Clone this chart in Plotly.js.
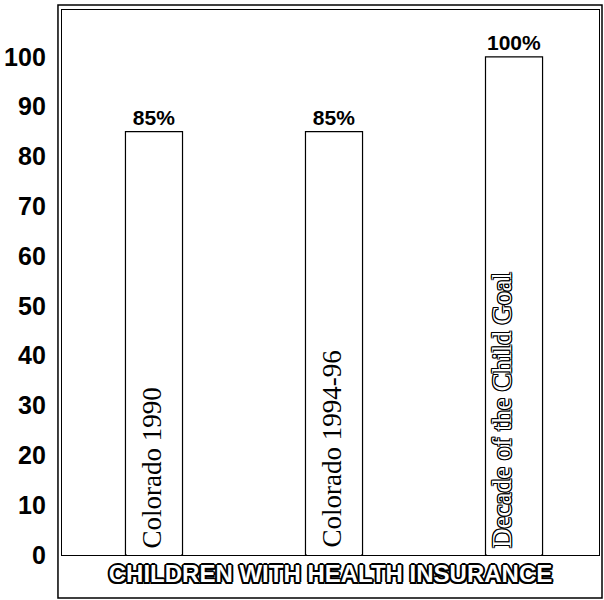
<!DOCTYPE html>
<html>
<head>
<meta charset="utf-8">
<script src="https://cdn.plot.ly/plotly-3.0.1.min.js"></script>
<style>html,body{margin:0;padding:0;background:#fff;}#chart{width:604px;height:600px;}</style>
</head>
<body>
<div id="chart"></div>
<script>
// ---- data ----
const categories = ['Colorado 1990', 'Colorado 1994-96', 'Decade of the Child Goal'];
const values = [85, 85, 100];
const valueLabels = ['85%', '85%', '100%'];
const yTickValues = [0, 10, 20, 30, 40, 50, 60, 70, 80, 90, 100];
const yTickLabels = ['0', '10', '20', '30', '40', '50', '60', '70', '80', '90', '100'];
const axisTitle = 'CHILDREN WITH HEALTH INSURANCE';

// ---- styling (not data) ----
const labelShift = [-2, -3, -12];
const outlined = [false, false, true];
const boldSans = 'Liberation Sans, Arial, sans-serif';
const serif = 'Liberation Serif, Times New Roman, serif';
const outline1 = '1px 0 0 #000, -1px 0 0 #000, 0 1px 0 #000, 0 -1px 0 #000, 1px 1px 0 #000, -1px -1px 0 #000, 1px -1px 0 #000, -1px 1px 0 #000';
const outline2 = '2px 0 0 #000, -2px 0 0 #000, 0 2px 0 #000, 0 -2px 0 #000, 1.4px 1.4px 0 #000, -1.4px -1.4px 0 #000, 1.4px -1.4px 0 #000, -1.4px 1.4px 0 #000';

const bars = {
  type: 'bar',
  x: categories,
  y: values,
  width: 0.317,
  marker: {color: '#ffffff', line: {color: '#000000', width: 1.2}},
  text: valueLabels,
  textposition: 'outside',
  textfont: {family: boldSans, size: 21, weight: 'bold', color: '#000'},
  cliponaxis: false,
  hoverinfo: 'skip'
};

// white patch hiding the baseline under each bar (open-bottom bars as in reference)
const mask = {
  type: 'bar',
  x: categories,
  y: categories.map(() => 1.2),
  base: categories.map(() => -1),
  width: 0.30,
  marker: {color: '#ffffff', line: {width: 0}},
  cliponaxis: false,
  hoverinfo: 'skip'
};

const annotations = categories.map((c, i) => ({
  x: c, y: 0, xref: 'x', yref: 'y',
  text: c,
  showarrow: false,
  textangle: -90,
  xanchor: 'center', yanchor: 'bottom',
  xshift: labelShift[i], yshift: 5,
  font: outlined[i]
    ? {family: serif, size: 27, color: '#ffffff', shadow: outline1}
    : {family: serif, size: 27, color: '#000000'}
}));

const layout = {
  width: 604, height: 600,
  margin: {l: 62, r: 5, t: 10, b: 45},
  paper_bgcolor: '#ffffff', plot_bgcolor: '#ffffff',
  showlegend: false,
  barmode: 'overlay',
  xaxis: {
    range: [-0.511, 2.472],
    showticklabels: false, ticks: '', showgrid: false, zeroline: false,
    showline: true, mirror: true, linecolor: '#000', linewidth: 1.2,
    layer: 'below traces',
    fixedrange: true,
    title: {text: axisTitle, standoff: 10,
      font: {family: boldSans, size: 24, weight: 'bold', color: '#ffffff', shadow: outline2}}
  },
  yaxis: {
    range: [0, 109.4],
    tickvals: yTickValues, ticktext: yTickLabels,
    ticks: '', ticklabelstandoff: 10,
    tickfont: {family: boldSans, size: 25, weight: 'bold', color: '#000'},
    showgrid: false, zeroline: false,
    showline: true, mirror: true, linecolor: '#000', linewidth: 1.2,
    layer: 'below traces',
    fixedrange: true
  },
  annotations: annotations,
  shapes: [{
    type: 'rect', xref: 'paper', yref: 'paper',
    x0: -0.0075, x1: 1.0056, y0: -0.0789, y1: 1.0092,
    line: {color: '#000', width: 1.5}, fillcolor: 'rgba(0,0,0,0)', layer: 'above'
  }]
};

Plotly.newPlot('chart', [bars, mask], layout, {displayModeBar: false, staticPlot: true});
</script>
</body>
</html>
